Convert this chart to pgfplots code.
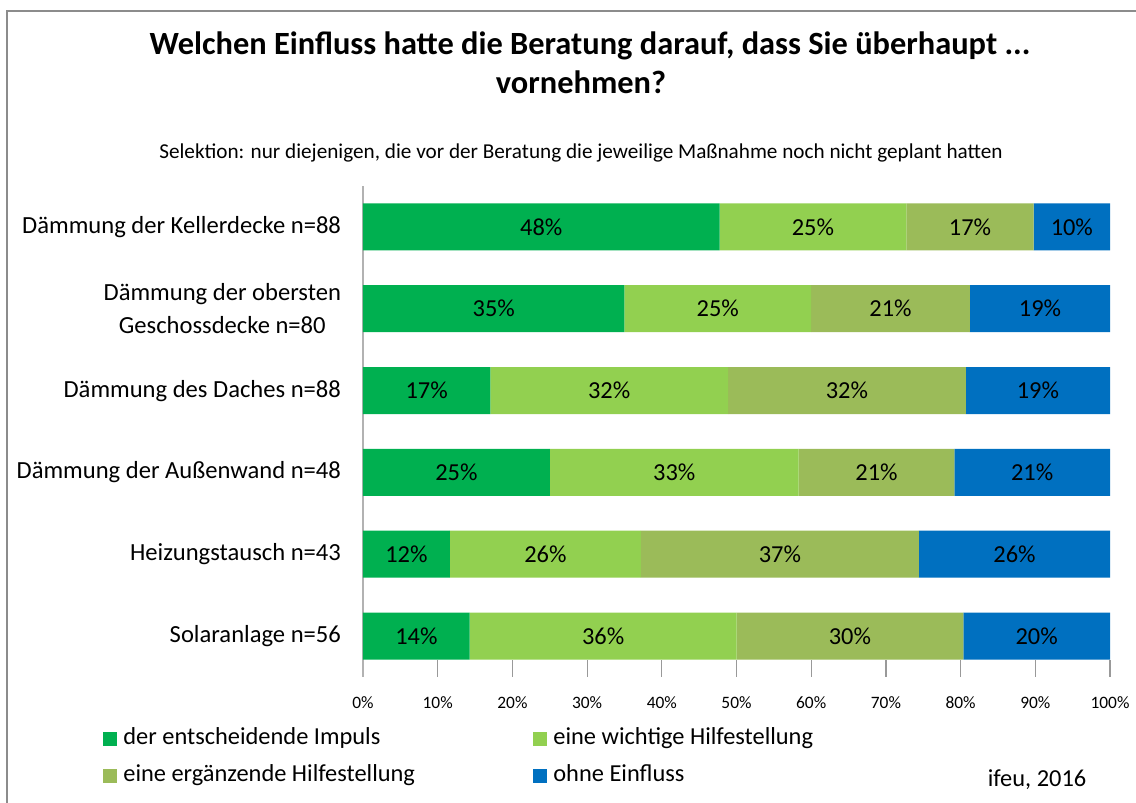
\documentclass[border=0pt]{standalone}
\usepackage{fontspec}
\setmainfont{Carlito}
\usepackage{pgfplots}
\usepackage{pgfplotstable}
\pgfplotsset{compat=1.18}
\pgfplotsset{/pgf/number format/assume math mode=true}
\definecolor{cA}{HTML}{00B050}
\definecolor{cB}{HTML}{92D050}
\definecolor{cC}{HTML}{9BBB59}
\definecolor{cD}{HTML}{0070C0}
\pgfplotstableread{
cat a b c d
5 47.73 25.00 17.05 10.22
4 35.00 25.00 21.25 18.75
3 17.05 31.82 31.82 19.31
2 25.00 33.33 20.83 20.84
1 11.63 25.58 37.21 25.58
0 14.29 35.71 30.36 19.64
}\datatable
\newcommand{\lblfont}{\fontsize{12.2}{15}\selectfont}
\begin{document}
\begin{tikzpicture}[x=0.5pt,y=0.5pt]
\useasboundingbox (0,0) rectangle (1136,803);
\fill[white] (0,0) rectangle (1136,803);
\draw[black!45, line width=1pt] (7,0) -- (7,792) -- (1136,792);
\coordinate (O) at (363,126);
\node[font=\fontsize{16.2}{19}\selectfont\bfseries, anchor=base] at (590,748) {Welchen Einfluss hatte die Beratung darauf, dass Sie überhaupt ...};
\node[font=\fontsize{16.2}{19}\selectfont\bfseries, anchor=base] at (581,709) {vornehmen?};
\node[font=\fontsize{10.6}{12}\selectfont, anchor=base] at (581,644) {Selektion: nur diejenigen, die vor der Beratung die jeweilige Maßnahme noch nicht geplant hatten};
\node[font=\lblfont, anchor=base] at (1037,16) {ifeu, 2016};
\begin{axis}[
  at={(O)}, anchor=south west, scale only axis,
  width=373.5pt, height=245.5pt,
  xbar stacked, bar width=23.5pt,
  xmin=0, xmax=100, ymin=-0.5, ymax=5.5,
  axis x line*=bottom, axis y line*=left,
  x axis line style={draw=none},
  y axis line style={black!30, line width=0.6pt},
  xtick={0,10,...,100},
  xticklabel={\pgfmathprintnumber{\tick}\%},
  xtick style={black!40, line width=0.6pt},
  tick align=inside, major tick length=8.5pt,
  x tick label style={font=\fontsize{8.7}{10}\selectfont, yshift=-6.5pt},
  ytick={0,...,5},
  yticklabels={Solaranlage n=56, Heizungstausch n=43, Dämmung der Außenwand n=48, Dämmung des Daches n=88, {Dämmung der obersten\\Geschossdecke n=80}, Dämmung der Kellerdecke n=88},
  ytick style={draw=none},
  y tick label style={font=\fontsize{12.3}{16.5}\selectfont, align=center, xshift=-7.5pt},
  legend columns=2,
  legend style={at={(-0.3481,-0.101)}, anchor=north west, draw=none, fill=none,
    inner sep=0pt, row sep=6.5pt, column sep=0pt,
    font=\lblfont, cells={anchor=west},
    nodes={inner ysep=0pt, inner xsep=3pt, text height=9pt, text depth=3pt}},
  legend image code/.code={\fill[#1] (0pt,-3.5pt) rectangle (7pt,3.5pt);},
]
\addplot[fill=cA, draw=none] table[x=a, y=cat] {\datatable};
\addlegendentry{\makebox[202pt][l]{der entscheidende Impuls}}
\addplot[fill=cB, draw=none] table[x=b, y=cat] {\datatable};
\addlegendentry{eine wichtige Hilfestellung}
\addplot[fill=cC, draw=none] table[x=c, y=cat] {\datatable};
\addlegendentry{\makebox[202pt][l]{eine ergänzende Hilfestellung}}
\addplot[fill=cD, draw=none] table[x=d, y=cat] {\datatable};
\addlegendentry{ohne Einfluss}
\end{axis}
\begin{axis}[
  at={(O)}, anchor=south west, scale only axis,
  width=373.5pt, height=245.5pt,
  xmin=0, xmax=100, ymin=-0.5, ymax=5.5, hide axis,
  every node near coord/.append style={anchor=center, font=\lblfont, inner sep=0pt},
  nodes near coords={\pgfmathprintnumber[fixed,precision=0]{\pgfplotspointmeta}\%},
]
\addplot[only marks, mark=none, point meta=explicit] table[x expr=\thisrow{a}/2, y=cat, meta=a] {\datatable};
\addplot[only marks, mark=none, point meta=explicit] table[x expr=\thisrow{a}+\thisrow{b}/2, y=cat, meta=b] {\datatable};
\addplot[only marks, mark=none, point meta=explicit] table[x expr=\thisrow{a}+\thisrow{b}+\thisrow{c}/2, y=cat, meta=c] {\datatable};
\addplot[only marks, mark=none, point meta=explicit] table[x expr=\thisrow{a}+\thisrow{b}+\thisrow{c}+\thisrow{d}/2, y=cat, meta=d] {\datatable};
\end{axis}
\end{tikzpicture}
\end{document}
